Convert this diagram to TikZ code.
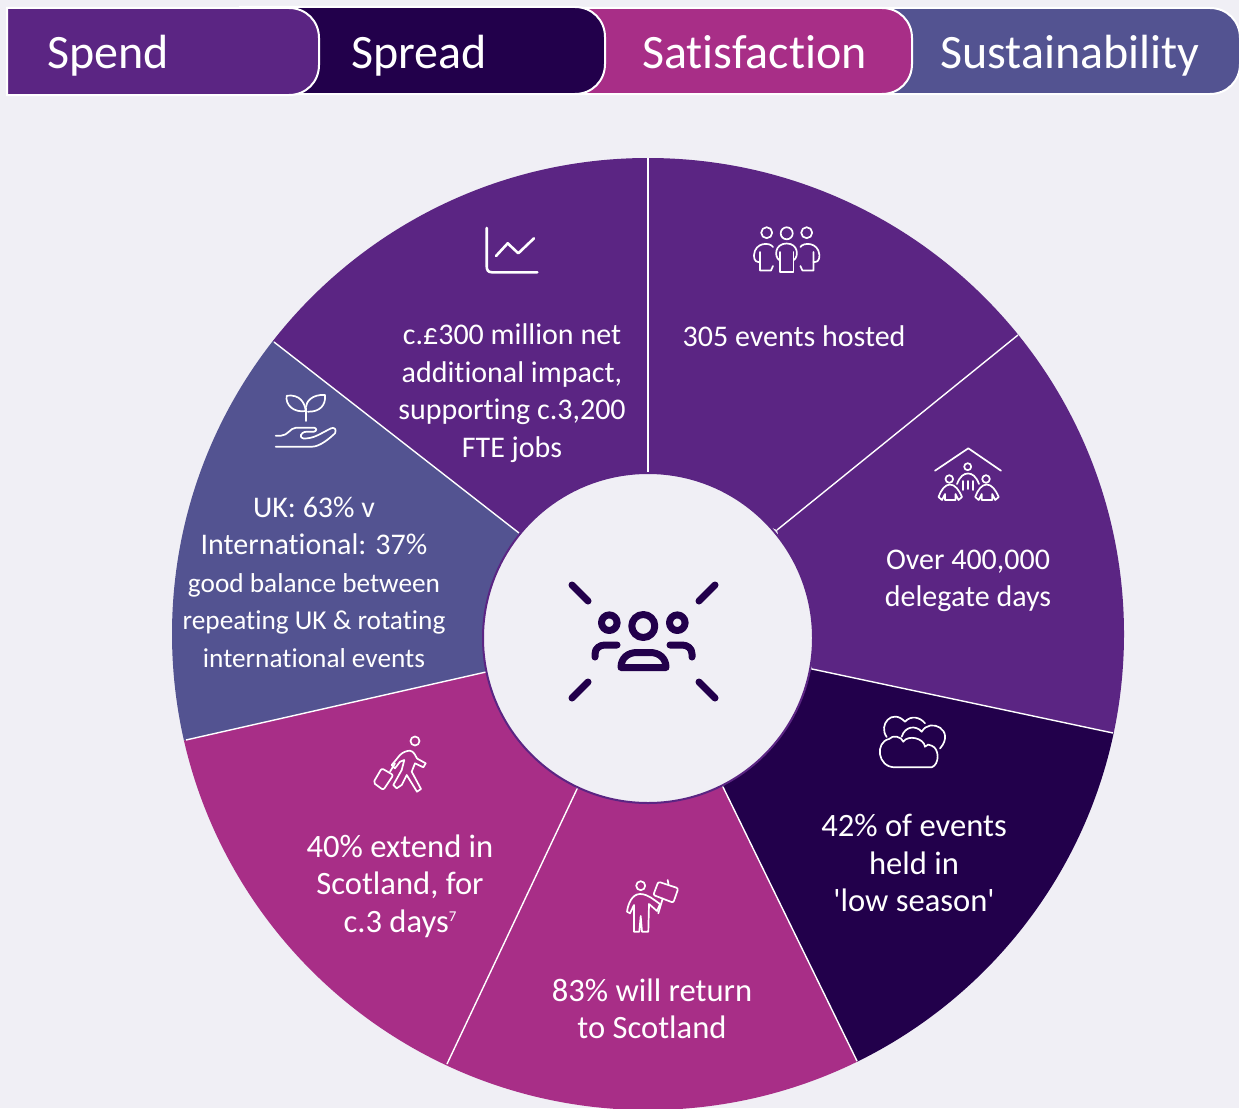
\documentclass[tikz,border=0pt]{standalone}
\usepackage{fontspec}
\setmainfont[Ligatures={TeXOff,NoCommon}]{Carlito}
\usetikzlibrary{calc}
\definecolor{bgc}{HTML}{F0EFF5}
\definecolor{purp}{HTML}{5B2583}
\definecolor{dark}{HTML}{22004B}
\definecolor{mag}{HTML}{A82E87}
\definecolor{slate}{HTML}{535391}
\newcommand{\fs}[1]{\fontsize{#1}{37.5}\selectfont}
\tikzset{
  x=1pt,y=-1pt,
  tabbox/.style={draw=white,line width=2pt},
  tablabel/.style={text=white,anchor=base west,inner sep=0pt,font=\fontsize{48}{50}\selectfont},
  bodya/.style={text=white,align=center,inner sep=0pt,font=\fs{30}},
  bodyb/.style={text=white,align=center,inner sep=0pt,font=\fs{32.6}},
  sep/.style={draw=white,line width=1.4pt},
  icon/.style={draw=white,line width=1.7pt,line cap=round,line join=round},
  iconb/.style={draw=white,line width=2.6pt,line cap=round,line join=round},
  hub/.style={draw=dark,line width=7pt,line cap=round,line join=round},
}
\begin{document}
\begin{tikzpicture}
\useasboundingbox (0,0) rectangle (1239,1108);
\fill[bgc] (0,0) rectangle (1239,1108);
% tabs
\draw[tabbox,fill=slate] (800,8) -- (1210,8) .. controls (1227,8) and (1240,21) .. (1240,38) -- (1240,64) .. controls (1240,81) and (1227,94) .. (1210,94) -- (800,94) -- cycle;
\draw[tabbox,fill=mag] (530,8) -- (882,8) .. controls (899,8) and (912,21) .. (912,38) -- (912,64) .. controls (912,81) and (899,94) .. (882,94) -- (530,94) -- cycle;
\draw[tabbox,fill=dark] (240,7) -- (575,7) .. controls (592,7) and (605,20) .. (605,37) -- (605,64) .. controls (605,81) and (592,94) .. (575,94) -- (240,94) -- cycle;
\draw[tabbox,fill=purp] (7,8) -- (289,8) .. controls (306,8) and (319,21) .. (319,38) -- (319,65) .. controls (319,82) and (306,95) .. (289,95) -- (7,95) -- cycle;
\node[tablabel] (t1) at (47,69) {Spend};
\node[tablabel] (t2) at (351,69) {Spread};
\node[tablabel] (t3) at (642,69) {Satisfaction};
\node[tablabel] (t4) at (940,69) {Sustainability};
% wheel
\coordinate (C) at (648,634);
\coordinate (r0) at (648,158);
\coordinate (r1) at (1018,335);
\coordinate (r2) at (1113,733);
\coordinate (r3) at (857,1061);
\coordinate (r4) at (447,1064);
\coordinate (r5) at (186,740);
\coordinate (r6) at (274,342);
\coordinate (i0) at (648,472);
\coordinate (i1) at (777,530);
\coordinate (i2) at (812,669);
\coordinate (i3) at (723,787);
\coordinate (i4) at (577,789);
\coordinate (i5) at (486,672);
\coordinate (i6) at (519,533);
\begin{scope}
\clip (C) circle[radius=476];
\fill[purp] (i6) -- ($(i6)!2!(r6)$) -- ($(i0)!2!(r0)$) -- (i0) -- cycle;
\fill[purp] (i0) -- ($(i0)!2!(r0)$) -- ($(i1)!2!(r1)$) -- (i1) -- cycle;
\fill[purp] (i1) -- ($(i1)!2!(r1)$) -- ($(i2)!2!(r2)$) -- (i2) -- cycle;
\fill[dark] (i2) -- ($(i2)!2!(r2)$) -- ($(i3)!2!(r3)$) -- (i3) -- cycle;
\fill[mag] (i3) -- ($(i3)!2!(r3)$) -- ($(i4)!2!(r4)$) -- (i4) -- cycle;
\fill[mag] (i4) -- ($(i4)!2!(r4)$) -- ($(i5)!2!(r5)$) -- (i5) -- cycle;
\fill[slate] (i5) -- ($(i5)!2!(r5)$) -- ($(i6)!2!(r6)$) -- (i6) -- cycle;
\fill[purp] (648,638) circle[radius=150];
\end{scope}
\foreach \i in {0,...,6} \draw[sep] (i\i) -- (r\i);
\draw[draw=purp,line width=2pt,fill=bgc] (648,638) circle[radius=165];
% hub icon
\draw[hub] (572,585) -- (588,601);
\draw[hub] (715,585) -- (699,601);
\draw[hub] (588,682) -- (572,698);
\draw[hub] (699,682) -- (715,698);
\draw[hub] (643.3,626) circle[radius=11.5];
\draw[hub] (609.3,622.7) circle[radius=7.8];
\draw[hub] (677.3,622.7) circle[radius=7.8];
\draw[hub] (595,657) -- (595,654) .. controls (595,648) and (600,645) .. (605,645) -- (617,645);
\draw[hub] (692,657) -- (692,654) .. controls (692,648) and (687,645) .. (682,645) -- (670,645);
\draw[hub] (621,667.5) .. controls (621,658) and (628,652.5) .. (637,652.5) -- (650,652.5) .. controls (659,652.5) and (666,658) .. (666,667.5) -- cycle;
% chart icon
\draw[iconb] (486.7,228) -- (486.7,266) .. controls (486.7,270) and (488,272.3) .. (492,272.3) -- (537.3,272.3);
\draw[iconb] (496,256) -- (507.7,243.3) -- (518.3,253.3) -- (534,238.3);
% people icon
\draw[icon] (766.7,232.7) circle[radius=5.5];
\draw[icon] (786.7,233.3) circle[radius=6];
\draw[icon] (806.7,232.7) circle[radius=5.5];
\draw[icon] (779,260) .. controls (774,256) and (775,243.5) .. (786.7,243.5) .. controls (798,243.5) and (799,256) .. (794,260);
\draw[icon] (780,252) -- (780,272.3) -- (793.4,272.3) -- (793.4,252);
\draw[icon] (773,247) .. controls (770,242) and (755,242) .. (754,255) .. controls (754,262) and (757,262) .. (760,262);
\draw[icon] (760,252) -- (760,270.5) -- (771,270.5) -- (773,266);
\draw[icon] (800.4,247) .. controls (803.4,242) and (818.4,242) .. (819.4,255) .. controls (819.4,262) and (816.4,262) .. (813.4,262);
\draw[icon] (813.4,252) -- (813.4,270.5) -- (802.4,270.5) -- (800.4,266);
% house icon
\draw[icon] (935,470.7) -- (968.3,448.3) -- (1001,470.7);
\draw[icon] (967.7,466.7) circle[radius=3.5];
\draw[icon] (949.3,479) circle[radius=3.8];
\draw[icon] (986,479) circle[radius=3.8];
\draw[icon] (957,484) .. controls (960,476) and (964,473.5) .. (968,473.5) .. controls (972,473.5) and (976,476) .. (979,484);
\draw[icon] (962.7,481) -- (962.7,490) (973.3,481) -- (973.3,490) (968,481) -- (968,489);
\foreach \dx in {0,36.7}{
  \draw[icon,xshift=\dx pt] (962,497) -- (958.5,500) -- (955.5,494) -- (955.5,500) -- (945,500) -- (945,494) -- (942,500) -- (938.5,497) .. controls (941,490) and (945,484.5) .. (950,484.5) .. controls (955,484.5) and (959,490) .. (962,497);
}
% clouds icon
\draw[icon] (895,767.3) -- (931.7,767.3) to[bend right=70] (931.7,745.7) to[bend right=55] (925,746.7)
  to[bend right=70] (903.3,741.7) to[bend right=60] (889,739) .. controls (875,742) and (877,767.3) .. (895,767.3);
\draw[icon] (886.7,737) .. controls (878,725) and (892,708) .. (905,721.7) .. controls (911,715) and (920,717) .. (925,723.3);
\draw[icon] (901.7,736.7) .. controls (905,726) and (916,725) .. (921.7,731.7) .. controls (930,717) and (956,730) .. (940,748.5);
% flag person icon
\draw[icon] (640.7,885.7) circle[radius=4.5];
\draw[icon] (627,911.7) .. controls (628,904) and (632,894) .. (640,894) .. controls (648,894) and (654,900) .. (660,904) -- (657,911) -- (649,904) -- (648.3,931.7) -- (642,931.7) -- (640.7,916) -- (639.3,931.7) -- (634,931.7) -- (634,905) -- (630,913.3) -- cycle;
\draw[icon,rounded corners=2pt] (658.3,881.7) -- (678.3,888.3) -- (673.3,902.7) -- (653.3,895) -- cycle;
\draw[icon] (667.7,880) -- (668.5,884.5) (662.7,898.5) -- (658.3,913.3);
% traveller icon
\draw[icon] (415,741) circle[radius=4.5];
\draw[icon] (400,755) .. controls (403,752) and (407,750.7) .. (410,750.7) .. controls (414,751) and (416,757) .. (417,758.5) -- (425.7,763.3) -- (423.3,767.3) -- (415,763.3) -- (411.7,771.7) -- (421,789) -- (417,791.7) -- (406.7,775) -- (401.7,785) -- (396.7,788.3) -- (393.3,785) -- (401.7,770) -- (404.3,760) -- (400,761.7) -- (395,768.3) -- (391.7,765) -- cycle;
\draw[icon,rounded corners=2pt] (381.7,768.3) -- (393.3,775) -- (383.3,790) -- (373.3,782.7) -- cycle;
\draw[icon] (390,771.7) -- (395,763.3);
% plant hand icon
\draw[icon] (305.7,421) -- (305.7,408);
\draw[icon] (305.7,411) .. controls (305,403) and (300,394) .. (286.7,395.7) .. controls (285,405) and (294,413) .. (305.7,411);
\draw[icon] (308,411.7) .. controls (320,412) and (326,405) .. (325,395) .. controls (312,394) and (306,402) .. (306,407);
\draw[icon] (275.7,446.7) -- (312,446.7) .. controls (320,446.7) and (330,438) .. (335,433.3) .. controls (337,429) and (334,427) .. (331,428.3) -- (318.3,435) .. controls (312,438) and (308,438.5) .. (303.5,438.5) .. controls (299,438) and (300,432) .. (306.7,431.7) -- (314,431.7) .. controls (317,431) and (317,428) .. (314,427.7) -- (296,427.7) .. controls (290,428) and (288,435.5) .. (281,435.7) -- (275.7,435.7);
% texts
\node[bodya] (a1) at (512,393) {c.£300 million net\\additional impact,\\supporting c.3,200\\FTE jobs};
\node[bodya] (a2) at (794,336) {305 events hosted};
\node[bodya] (a3) at (968,581) {Over 400,000\\delegate days};
\node[bodyb] (a4) at (914,863) {42\% of events\\held in\\'low season'};
\node[bodyb] (a5) at (652,1009) {83\% will return\\to Scotland};
\node[bodyb] (a6) at (400,886) {40\% extend in\\Scotland, for\\c.3 days\raisebox{11pt}{\fontsize{15}{15}\selectfont 7}};
\node[bodya] (a7) at (314,582) {UK: 63\% v\\International: 37\%\\\fs{27.3}good balance between\\\fs{27.3}repeating UK \& rotating\\\fs{27.3}international events};
\end{tikzpicture}
\end{document}
